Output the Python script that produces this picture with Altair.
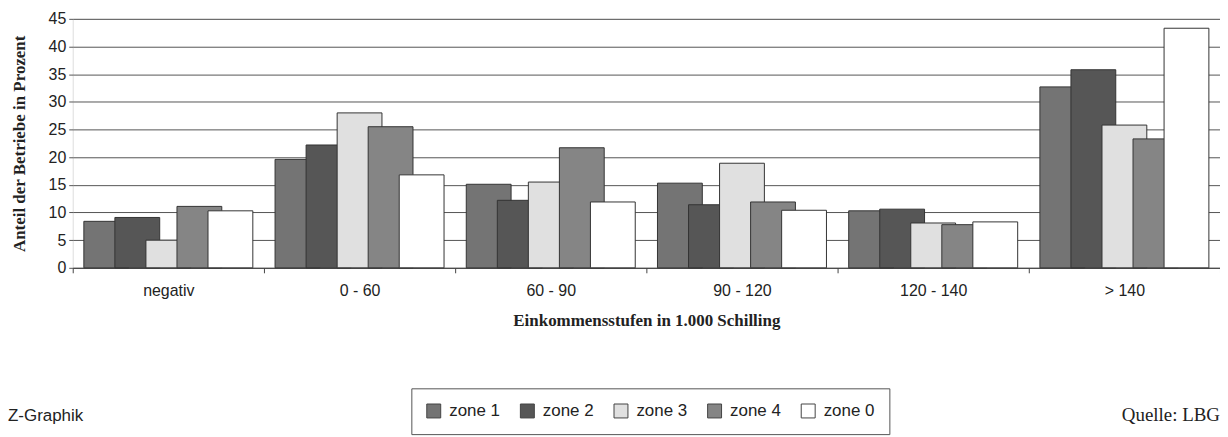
import altair as alt
import pandas as pd

stufen = ["negativ", "0 - 60", "60 - 90", "90 - 120", "120 - 140", "> 140"]
zones = ["zone 1", "zone 2", "zone 3", "zone 4", "zone 0"]
zone1 = [8.4, 19.6, 15.1, 15.3, 10.3, 32.7]
zone2 = [9.1, 22.2, 12.2, 11.4, 10.6, 35.8]
zone3 = [5.0, 28.0, 15.5, 18.9, 8.1, 25.8]
zone4 = [11.1, 25.5, 21.7, 11.9, 7.8, 23.3]
zone0 = [10.3, 16.8, 11.9, 10.4, 8.3, 43.3]
fills = ["#747474", "#565656", "#e0e0e0", "#858585", "#ffffff"]

rows = []
for z, vals in zip(zones, [zone1, zone2, zone3, zone4, zone0]):
    for s, v in zip(stufen, vals):
        rows.append({"stufe": s, "zone": z, "wert": v})
df = pd.DataFrame(rows)

SANS = "Liberation Sans"
SERIF = "Liberation Serif"

bars = alt.Chart(df).mark_bar(
    width=45, stroke="#333333", strokeWidth=1
).encode(
    x=alt.X("stufe:N", sort=stufen, scale=alt.Scale(paddingInner=0, paddingOuter=0),
            axis=alt.Axis(title="Einkommensstufen in 1.000 Schilling", labelAngle=0,
                          tickBand="extent", tickSize=5, tickColor="#444444",
                          domainColor="#444444", labelPadding=10, labelFont=SANS,
                          labelFontSize=16, labelColor="#222222", titleFont=SERIF,
                          titleFontSize=17, titleFontWeight="bold", titleColor="#222222",
                          titlePadding=14, grid=False)),
    xOffset=alt.XOffset("zone:N", sort=zones,
                        scale=alt.Scale(paddingInner=0, paddingOuter=0.58)),
    y=alt.Y("wert:Q", scale=alt.Scale(domain=[0, 45], nice=False),
            axis=alt.Axis(title="Anteil der Betriebe in Prozent", values=list(range(0, 50, 5)),
                          domain=False, tickSize=4, tickColor="#555555", gridColor="#555555",
                          gridWidth=1, labelFont=SANS, labelFontSize=16, labelColor="#222222",
                          labelPadding=3, titleFont=SERIF, titleFontSize=17,
                          titleFontWeight="bold", titleColor="#222222", titlePadding=20)),
    color=alt.Color("zone:N", sort=zones, scale=alt.Scale(domain=zones, range=fills),
                    legend=alt.Legend(title=None, orient="none", legendX=340, legendY=371,
                                      direction="horizontal", columns=5, symbolType="square",
                                      symbolSize=196, symbolStrokeColor="#444444",
                                      symbolStrokeWidth=1, labelFont=SANS, labelFontSize=17,
                                      labelColor="#222222", labelOffset=7, columnPadding=17,
                                      padding=14, strokeColor="#555555")),
)

left_txt = alt.Chart(pd.DataFrame({"t": ["Z-Graphik"]})).mark_text(
    align="left", baseline="alphabetic", font=SANS, fontSize=17, color="#222222"
).encode(text="t:N", x=alt.value(-65), y=alt.value(404))

right_txt = alt.Chart(pd.DataFrame({"t": ["Quelle: LBG"]})).mark_text(
    align="right", baseline="alphabetic", font=SERIF, fontSize=19, color="#222222"
).encode(text="t:N", x=alt.value(1152), y=alt.value(404))

chart = alt.layer(bars, left_txt, right_txt).properties(
    width=1152, height=250,
    autosize=alt.AutoSizeParams(type="none"),
    padding={"left": 65, "top": 10, "right": 0, "bottom": 169},
).configure_view(stroke=None).configure(background="white")

chart.save("out.html", embed_options={"renderer": "svg", "actions": False})
